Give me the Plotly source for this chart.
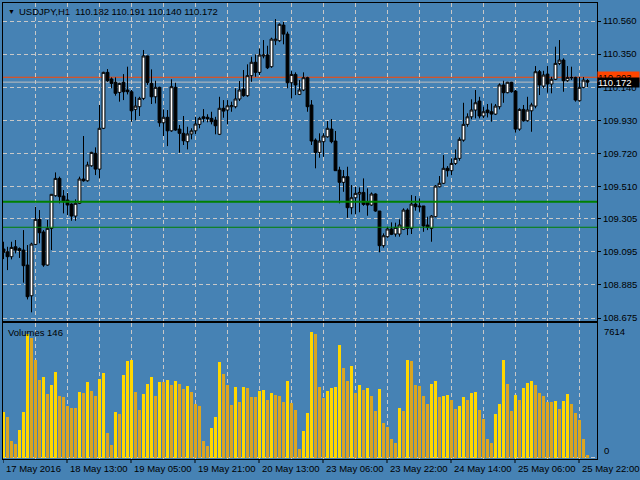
import plotly.graph_objects as go

# ---------------- data ----------------
symbol = "USDJPY,H1"
time_labels = ["17 May 2016", "18 May 13:00", "19 May 05:00", "19 May 21:00", "20 May 13:00",
               "23 May 06:00", "23 May 22:00", "24 May 14:00", "25 May 06:00", "25 May 22:00"]
label_bars = [0, 16, 32, 48, 64, 80, 96, 112, 128, 144]

open_ = [109.113, 109.095, 109.064, 109.127, 109.115, 109.106, 109.011, 108.816, 109.142, 109.301,
         109.221, 109.011, 109.244, 109.451, 109.561, 109.449, 109.424, 109.398, 109.322, 109.403,
         109.557, 109.546, 109.641, 109.720, 109.620, 109.879, 110.234, 110.192, 110.171, 110.107,
         110.171, 110.122, 110.111, 109.999, 110.016, 110.069, 110.338, 110.164, 110.079, 110.139,
         109.914, 109.949, 109.863, 110.139, 109.874, 109.847, 109.794, 109.843, 109.863, 109.904,
         109.952, 109.949, 109.942, 109.931, 109.841, 110.006, 109.995, 110.016, 110.016, 110.065,
         110.128, 110.086, 110.213, 110.298, 110.234, 110.338, 110.344, 110.270, 110.435, 110.435,
         110.534, 110.477, 110.168, 110.221, 110.094, 110.122, 110.200, 110.027, 109.804, 109.726,
         109.794, 109.825, 109.874, 109.798, 109.614, 109.536, 109.572, 109.375, 109.438, 109.462,
         109.472, 109.409, 109.392, 109.462, 109.354, 109.134, 109.191, 109.240, 109.208, 109.208,
         109.238, 109.360, 109.244, 109.398, 109.386, 109.386, 109.265, 109.244, 109.318, 109.508,
         109.530, 109.625, 109.610, 109.656, 109.688, 109.804, 109.904, 109.952, 109.995, 110.052,
         109.957, 109.995, 109.984, 109.969, 110.016, 110.154, 110.105, 110.171, 110.115, 109.874,
         109.999, 109.927, 109.990, 110.020, 110.238, 110.147, 110.223, 110.160, 110.190, 110.291,
         110.312, 110.181, 110.202, 110.202, 110.054, 110.139, 110.182]
high_ = [109.159, 109.127, 109.159, 109.170, 109.123, 109.233, 109.138, 109.153, 109.381, 109.360,
         109.233, 109.297, 109.462, 109.599, 109.572, 109.487, 109.468, 109.403, 109.428, 109.572,
         109.830, 109.667, 109.730, 109.758, 110.027, 110.238, 110.255, 110.202, 110.202, 110.168,
         110.223, 110.270, 110.122, 110.079, 110.079, 110.376, 110.340, 110.253, 110.181, 110.143,
         109.999, 109.995, 110.190, 110.168, 109.900, 109.957, 109.889, 109.879, 109.952, 109.952,
         110.001, 109.968, 109.984, 109.952, 110.079, 110.058, 110.058, 110.048, 110.133, 110.179,
         110.249, 110.285, 110.333, 110.348, 110.386, 110.439, 110.403, 110.454, 110.572, 110.545,
         110.555, 110.492, 110.242, 110.234, 110.185, 110.234, 110.206, 110.058, 109.815, 109.847,
         109.847, 109.925, 109.938, 109.862, 109.635, 109.614, 109.635, 109.519, 109.508, 109.504,
         109.561, 109.498, 109.472, 109.466, 109.354, 109.212, 109.254, 109.282, 109.280, 109.301,
         109.371, 109.371, 109.455, 109.449, 109.434, 109.386, 109.318, 109.328, 109.519, 109.576,
         109.709, 109.639, 109.688, 109.745, 109.822, 110.041, 109.974, 110.063, 110.122, 110.079,
         110.016, 110.033, 110.037, 110.033, 110.164, 110.181, 110.174, 110.174, 110.122, 110.006,
         110.027, 110.079, 110.041, 110.274, 110.249, 110.244, 110.274, 110.206, 110.397, 110.439,
         110.323, 110.274, 110.270, 110.206, 110.206, 110.204, 110.191]
low_ = [109.049, 108.979, 109.047, 109.085, 109.056, 108.899, 108.793, 108.711, 109.138, 109.149,
        109.000, 109.007, 109.106, 109.445, 109.403, 109.339, 109.328, 109.292, 109.292, 109.398,
        109.540, 109.540, 109.635, 109.582, 109.561, 109.874, 110.174, 110.133, 110.086, 110.048,
        110.058, 110.094, 109.921, 109.931, 109.957, 110.058, 110.154, 110.033, 110.037, 109.889,
        109.830, 109.766, 109.857, 109.863, 109.724, 109.773, 109.745, 109.809, 109.843, 109.879,
        109.917, 109.917, 109.904, 109.841, 109.836, 109.946, 109.904, 109.984, 110.006, 110.052,
        110.079, 110.079, 110.174, 110.206, 110.217, 110.323, 110.255, 110.263, 110.407, 110.428,
        110.412, 110.133, 110.069, 110.090, 110.090, 110.115, 109.984, 109.773, 109.625, 109.692,
        109.698, 109.819, 109.784, 109.610, 109.403, 109.476, 109.311, 109.333, 109.333, 109.346,
        109.387, 109.324, 109.387, 109.349, 109.092, 109.121, 109.184, 109.201, 109.191, 109.191,
        109.233, 109.201, 109.208, 109.356, 109.349, 109.222, 109.233, 109.159, 109.314, 109.504,
        109.525, 109.572, 109.582, 109.646, 109.673, 109.794, 109.889, 109.936, 109.942, 109.942,
        109.942, 109.948, 109.921, 109.963, 109.999, 110.041, 110.101, 110.105, 109.851, 109.863,
        109.921, 109.921, 109.857, 110.006, 110.090, 110.133, 110.105, 110.101, 110.185, 110.280,
        110.111, 110.174, 110.185, 110.048, 110.048, 110.133, 110.140]
close_ = [109.092, 109.064, 109.123, 109.106, 109.102, 109.007, 108.810, 109.144, 109.301, 109.216,
          109.011, 109.244, 109.460, 109.561, 109.445, 109.413, 109.392, 109.322, 109.403, 109.557,
          109.546, 109.646, 109.726, 109.620, 109.879, 110.234, 110.181, 110.164, 110.101, 110.164,
          110.111, 110.111, 109.990, 110.020, 110.069, 110.338, 110.169, 110.079, 110.139, 109.914,
          109.949, 109.863, 110.143, 109.868, 109.847, 109.800, 109.843, 109.863, 109.906, 109.942,
          109.942, 109.940, 109.921, 109.895, 110.006, 109.988, 110.022, 110.022, 110.065, 110.122,
          110.086, 110.213, 110.298, 110.234, 110.344, 110.344, 110.263, 110.445, 110.445, 110.539,
          110.477, 110.168, 110.221, 110.154, 110.122, 110.200, 110.016, 109.798, 109.726, 109.798,
          109.830, 109.879, 109.794, 109.610, 109.536, 109.572, 109.375, 109.438, 109.466, 109.472,
          109.396, 109.392, 109.462, 109.354, 109.134, 109.197, 109.240, 109.206, 109.250, 109.265,
          109.360, 109.244, 109.398, 109.381, 109.381, 109.259, 109.250, 109.322, 109.512, 109.530,
          109.625, 109.610, 109.656, 109.688, 109.809, 109.904, 109.952, 109.995, 110.041, 109.957,
          109.984, 109.978, 109.969, 110.020, 110.154, 110.105, 110.171, 110.111, 109.874, 109.999,
          109.927, 109.995, 110.027, 110.238, 110.154, 110.217, 110.160, 110.190, 110.291, 110.312,
          110.181, 110.202, 110.200, 110.058, 110.139, 110.185, 110.172]
volume = [2770, 2470, 1000, 820, 1660, 2770, 7450, 7250, 5890, 4680,
          4850, 3840, 4380, 5170, 3720, 3660, 3110, 2990, 2980, 3960,
          3900, 4560, 4020, 3720, 4740, 5110, 1480, 760, 2750, 2630,
          4990, 5830, 5890, 3960, 2870, 3840, 4440, 4870, 3720, 4560,
          4540, 4680, 4380, 4620, 4440, 4140, 4320, 3960, 3230, 3110,
          1000, 700, 1780, 2450, 5770, 5050, 4380, 3170, 4260, 3360,
          4260, 4200, 3660, 3640, 4020, 4080, 3480, 3900, 3780, 3720,
          3360, 4620, 3290, 2870, 520, 1600, 2690, 7614, 7460, 4280,
          3620, 4020, 4200, 4260, 6800, 5410, 4620, 5530, 3900, 4380,
          4080, 4200, 3720, 2810, 4140, 2090, 1840, 1120, 880, 2990,
          2810, 5890, 5830, 4380, 4320, 3720, 3230, 4440, 4620, 3660,
          3720, 3780, 3480, 2930, 3110, 3660, 3480, 3900, 3960, 2870,
          2330, 1120, 880, 2630, 3230, 5890, 4440, 2810, 3780, 3480,
          4200, 4500, 4620, 4380, 3900, 3720, 3360, 3340, 3420, 2930,
          3420, 3840, 3230, 2690, 2270, 1120, 146]

price_ticks = [110.560, 110.350, 110.140, 109.930, 109.720, 109.510, 109.305, 109.095, 108.885, 108.675]
price_tick_text = ["110.560", "110.350", "110.140", "109.930", "109.720", "109.510",
                   "109.305", "109.095", "108.885", "108.675"]
ask_price = 110.203
green_levels = [109.413, 109.251]

# ---------------- styling ----------------
W, H = 640, 480
BG = "#4682B4"
GRID = "#C8C8C8"
DASH = "4px,3px"
UP_VOL = "#FFD700"
DN_VOL = "#DAA520"
FONT = "Liberation Sans, Arial, sans-serif"

n = len(close_)
bars = list(range(n))
vol_colors = [UP_VOL if (i == 0 or volume[i] > volume[i - 1]) else DN_VOL for i in range(n)]

# pixel layout of the panes
L_PX, R_PX = 3, 597
MAIN_TOP, MAIN_BOT = 3, 321
VOL_TOP, VOL_BOT = 323, 459
px_per_bar = 4.0
x0 = -0.125
x1 = x0 + (R_PX - L_PX) / px_per_bar
ppx = (318 - 21) / (110.560 - 108.675)
y_top = 110.560 + (21 - MAIN_TOP) / ppx
y_bot = 110.560 - (MAIN_BOT - 21) / ppx
vpx = max(volume) / (457.5 - 331.5)
v_bot = -(VOL_BOT - 457.5) * vpx
v_top = (457.5 - VOL_TOP) * vpx

fig = go.Figure()
fig.add_trace(go.Candlestick(
    x=bars, open=open_, high=high_, low=low_, close=close_,
    xaxis="x", yaxis="y",
    increasing=dict(line=dict(color="black", width=1), fillcolor="white"),
    decreasing=dict(line=dict(color="black", width=1), fillcolor="black"),
    whiskerwidth=0, showlegend=False, hoverinfo="skip"))
fig.add_trace(go.Bar(
    x=bars, y=volume, xaxis="x2", yaxis="y2", width=0.75,
    marker=dict(color=vol_colors, line=dict(width=0)), showlegend=False, hoverinfo="skip"))

grid_bars = [b for b in range(8, n, 8)]

axis_common = dict(showline=True, mirror=True, linecolor="black", linewidth=1, automargin=False,
                   zeroline=False, fixedrange=True, gridcolor=GRID, griddash=DASH, gridwidth=1)

fig.update_layout(
    width=W, height=H, margin=dict(l=0, r=0, t=0, b=0, pad=0), autosize=False,
    paper_bgcolor=BG, plot_bgcolor=BG, showlegend=False,
    boxgap=0.3, boxgroupgap=0, bargap=0,
    font=dict(family=FONT, size=9.5, color="black"),
    xaxis=dict(domain=[L_PX / W, R_PX / W], range=[x0, x1], anchor="y",
               tickmode="array", tickvals=grid_bars, showticklabels=False, ticks="",
               showgrid=True, rangeslider=dict(visible=False), **axis_common),
    yaxis=dict(domain=[1 - MAIN_BOT / H, 1 - MAIN_TOP / H], range=[y_bot, y_top], anchor="x",
               side="right", tickmode="array", tickvals=price_ticks, ticktext=price_tick_text,
               ticks="outside", ticklen=3, tickcolor="black", showgrid=True, **axis_common),
    xaxis2=dict(domain=[L_PX / W, R_PX / W], range=[x0, x1], anchor="y2",
                tickmode="array", tickvals=grid_bars, showticklabels=False, ticks="",
                showgrid=True, **axis_common),
    yaxis2=dict(domain=[1 - VOL_BOT / H, 1 - VOL_TOP / H], range=[v_bot, v_top], anchor="x2",
                side="right", tickmode="array", tickvals=[0], showticklabels=False, ticks="",
                showgrid=True, **axis_common),
)

shapes = [
    dict(type="line", xref="x domain", x0=0, x1=1, yref="y", y0=ask_price, y1=ask_price,
         line=dict(color="#FF4500", width=1), layer="below"),
    dict(type="line", xref="x domain", x0=0, x1=1, yref="y", y0=close_[-1], y1=close_[-1],
         line=dict(color="#C0C0C0", width=1), layer="below"),
    dict(type="line", xref="x domain", x0=0, x1=1, yref="y", y0=green_levels[0], y1=green_levels[0],
         line=dict(color="#008000", width=2), layer="above"),
    dict(type="line", xref="x domain", x0=0, x1=1, yref="y", y0=green_levels[1], y1=green_levels[1],
         line=dict(color="#008000", width=1), layer="above"),
]
# tick marks under the time labels
for b in label_bars:
    shapes.append(dict(type="line", xref="x2", x0=b - 0.125, x1=b - 0.125, yref="paper",
                       y0=1 - VOL_BOT / H, y1=1 - (VOL_BOT + 4) / H,
                       line=dict(color="black", width=1), layer="above"))
fig.update_layout(shapes=shapes)

title_text = "%s\u00a0\u00a0%.3f %.3f %.3f %.3f" % (symbol, open_[-1], high_[-1], low_[-1], close_[-1])
annotations = [
    dict(text="\u25bc", xref="paper", yref="paper", x=6 / W, y=1 - 11 / H, xanchor="left",
         yanchor="middle", showarrow=False, font=dict(size=7, color="black")),
    dict(text=title_text, xref="paper", yref="paper", x=17 / W, y=1 - 11 / H, xanchor="left",
         yanchor="middle", showarrow=False),
    dict(text="Volumes %d" % volume[-1], xref="paper", yref="paper", x=6 / W, y=1 - 332.5 / H,
         xanchor="left", yanchor="middle", showarrow=False),
    dict(text="%d" % max(volume), xref="paper", yref="y2", x=602 / W, y=max(volume),
         xanchor="left", yanchor="middle", showarrow=False),
    dict(text="0", xref="paper", yref="y2", x=602 / W, y=0,
         xanchor="left", yanchor="bottom", showarrow=False),
    dict(text="%.3f" % ask_price, xref="paper", yref="y", x=597 / W, y=ask_price,
         xanchor="left", yanchor="middle", showarrow=False, bgcolor="#FF4500",
         width=41, height=10, align="left", borderpad=0, font=dict(color="black")),
    dict(text="%.3f" % close_[-1], xref="paper", yref="y", x=597 / W, y=close_[-1],
         xanchor="left", yanchor="middle", showarrow=False, bgcolor="black",
         width=41, height=9, align="left", borderpad=0, font=dict(color="white")),
]
# time labels, left-aligned at their tick like the terminal draws them
for b, t in zip(label_bars, time_labels):
    annotations.append(dict(text=t, xref="x2", yref="paper", x=b - 0.125, y=1 - 468 / H,
                            xanchor="left", yanchor="middle", showarrow=False, xshift=1))
fig.update_layout(annotations=annotations)

fig.write_html("out.html", config={"displayModeBar": False, "staticPlot": True},
               post_script="document.body.style.margin='0px';document.body.style.overflow='hidden';")
